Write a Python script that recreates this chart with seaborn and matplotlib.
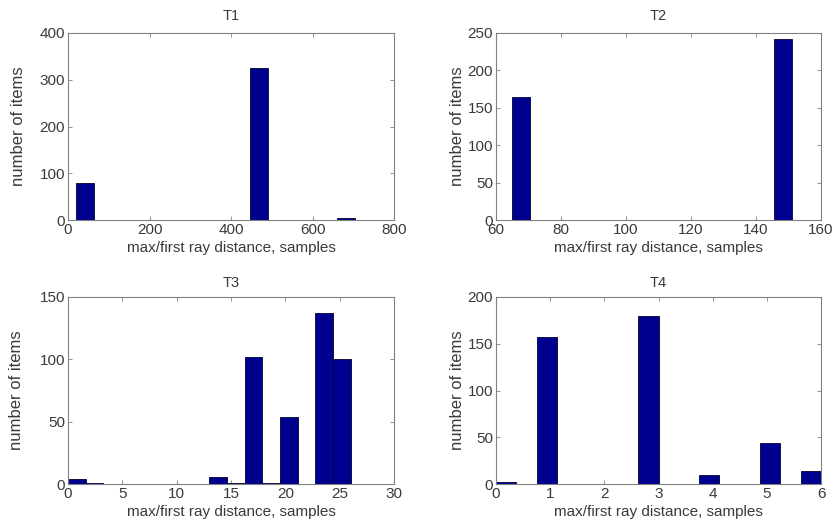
import numpy as np
import pandas as pd
import matplotlib
matplotlib.use("Agg")
import matplotlib.pyplot as plt
import seaborn as sns

# ---- data (16 histogram bins per panel) ----
titles = ["T1", "T2", "T3", "T4"]
bin_ranges = [(20, 704), (65, 151), (0, 26), (0, 6)]
n_bins = 16
counts_t1 = [80, 0, 0, 0, 0, 0, 0, 0, 0, 0, 325, 0, 0, 0, 0, 4]
counts_t2 = [164, 0, 0, 0, 0, 0, 0, 0, 0, 0, 0, 0, 0, 0, 0, 242]
counts_t3 = [4, 1, 0, 0, 0, 0, 0, 0, 6, 1, 102, 1, 54, 0, 137, 100]
counts_t4 = [2, 0, 157, 0, 0, 0, 0, 180, 0, 0, 10, 0, 0, 44, 0, 14]
all_counts = [counts_t1, counts_t2, counts_t3, counts_t4]
xlims = [(0, 800), (60, 160), (0, 30), (0, 6)]
ylims = [(0, 400), (0, 250), (0, 150), (0, 200)]
xticks = [[0, 200, 400, 600, 800], [60, 80, 100, 120, 140, 160],
          [0, 5, 10, 15, 20, 25, 30], [0, 1, 2, 3, 4, 5, 6]]
yticks = [[0, 100, 200, 300, 400], [0, 50, 100, 150, 200, 250],
          [0, 50, 100, 150], [0, 50, 100, 150, 200]]
xlabel = "max/first ray distance, samples"
ylabel = "number of items"

sns.set_style("white")
plt.rcParams['font.family'] = ['Liberation Sans', 'DejaVu Sans']

W, H = 838, 531
fig = plt.figure(figsize=(W / 100, H / 100), dpi=100)

# axes boxes in pixels: left, right, top, bottom
boxes = [(68, 394, 33, 220), (496, 821, 33, 220),
         (68, 394, 297, 484), (496, 821, 297, 484)]
ylabel_pads = [10, 2, 11, 2]
title_pads = [9, 9, 7, 7]

bar_color = "#00008F"
frame_color = "#808080"
text_color = "#3a3a3a"

for i in range(4):
    l, r, t, b = boxes[i]
    ax = fig.add_axes([l / W, 1 - b / H, (r - l) / W, (b - t) / H])
    lo, hi = bin_ranges[i]
    edges = np.linspace(lo, hi, n_bins + 1)
    centers = (edges[:-1] + edges[1:]) / 2
    df = pd.DataFrame({"x": centers, "w": all_counts[i]})
    sns.histplot(data=df, x="x", weights="w", bins=n_bins, binrange=(lo, hi),
                 ax=ax, color=bar_color, edgecolor="#000030", linewidth=0.6,
                 alpha=1.0)
    ax.set_xlim(*xlims[i])
    ax.set_ylim(*ylims[i])
    ax.set_xticks(xticks[i])
    ax.set_yticks(yticks[i])
    ax.set_title(titles[i], fontsize=10.5, color=text_color, pad=title_pads[i])
    ax.set_xlabel(xlabel, fontsize=11, color=text_color, labelpad=3)
    ax.set_ylabel(ylabel, fontsize=12, color=text_color,
                  labelpad=ylabel_pads[i])
    ax.tick_params(direction="in", length=3, width=0.6, colors=frame_color,
                   labelcolor=text_color, labelsize=11, top=True,
                   right=True, bottom=True, left=True, pad=2)
    for s in ax.spines.values():
        s.set_visible(True)
        s.set_color(frame_color)
        s.set_linewidth(0.8)

fig.savefig("out.png", dpi=100, facecolor="white")
